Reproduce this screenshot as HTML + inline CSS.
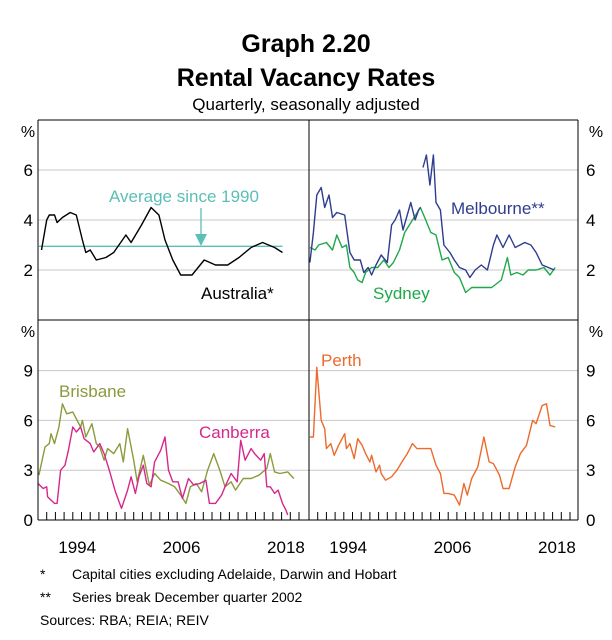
<!DOCTYPE html>
<html><head><meta charset="utf-8"><style>
html,body{margin:0;padding:0;background:#fff;}
svg{display:block;font-family:"Liberation Sans",Arial,sans-serif;}
</style></head><body>
<svg id="c" width="612" height="640" viewBox="0 0 612 640">
<text x="306" y="52" text-anchor="middle" font-size="25" font-weight="bold">Graph 2.20</text>
<text x="306" y="86" text-anchor="middle" font-size="25" font-weight="bold">Rental Vacancy Rates</text>
<text x="306" y="110" text-anchor="middle" font-size="17">Quarterly, seasonally adjusted</text>
<g id="grid"></g>
<g id="series"></g>
<g id="frame"></g>
<g id="labels"></g>
<text x="40" y="579" font-size="14">*</text>
<text x="72" y="579" font-size="14">Capital cities excluding Adelaide, Darwin and Hobart</text>
<text x="40" y="602" font-size="14">**</text>
<text x="72" y="602" font-size="14">Series break December quarter 2002</text>
<text x="40" y="625" font-size="14">Sources: RBA; REIA; REIV</text>
</svg>
<script>
const ausYears=[1990.4,1991.0,1991.3,1991.9,1992.2,1992.8,1993.7,1994.4,1995.1,1995.5,1996.0,1996.7,1997.8,1998.7,2000.1,2000.7,2001.9,2003.0,2003.9,2004.6,2005.5,2006.4,2007.7,2009.1,2010.4,2011.8,2013.1,2014.5,2015.8,2017.2,2018.1];
const ausValues=[2.8,4.0,4.2,4.2,3.9,4.1,4.3,4.2,3.2,2.7,2.8,2.4,2.5,2.7,3.4,3.1,3.8,4.5,4.2,3.2,2.4,1.8,1.8,2.4,2.2,2.2,2.5,2.9,3.1,2.9,2.7];
const avgYears=[1990.1,2018.1];
const avgValues=[2.95,2.95];
const melOldYears=[1990.1,1990.5,1990.9,1991.4,1991.8,1992.3,1992.7,1993.2,1994.1,1994.7,1995.2,1995.9,1996.3,1996.8,1997.2,1997.7,1998.3,1999.0,1999.5,1999.9,2000.4,2000.8,2001.7,2002.2,2002.6,2002.8];
const melOldValues=[2.3,3.5,5.0,5.3,4.5,5.0,4.1,4.3,4.2,2.7,2.4,2.4,1.9,2.1,1.8,2.2,2.6,2.3,3.8,4.0,4.4,3.6,4.7,4.0,4.4,4.5];
const melNewYears=[2003.1,2003.5,2003.9,2004.3,2004.6,2005.1,2005.5,2006.2,2006.7,2007.3,2008.0,2008.5,2009.1,2009.8,2010.5,2011.2,2011.6,2012.3,2013.0,2013.7,2014.8,2015.5,2016.1,2016.8,2017.5,2018.2];
const melNewValues=[6.1,6.6,5.4,6.6,4.7,4.4,3.0,2.7,2.4,2.1,2.0,1.7,2.0,2.2,2.0,3.0,3.4,2.9,3.4,2.9,3.1,3.0,2.7,2.2,2.1,2.0];
const sydYears=[1990.1,1990.7,1991.1,1992.0,1992.7,1993.2,1993.8,1994.3,1994.7,1995.2,1995.6,1996.1,1996.5,1997.2,1997.9,1998.6,1999.2,1999.7,2000.4,2001.0,2001.9,2002.8,2003.3,2004.0,2004.6,2005.3,2006.0,2006.7,2007.3,2008.0,2008.7,2009.8,2011.0,2012.1,2012.8,2013.2,2013.9,2014.6,2015.2,2016.1,2017.0,2017.7,2018.3];
const sydValues=[2.9,2.8,3.0,3.1,2.8,3.4,2.9,3.0,2.1,1.9,1.6,1.5,1.9,2.1,2.1,2.4,2.1,2.3,2.8,3.5,4.0,4.5,4.1,3.5,3.4,2.4,2.5,1.9,1.7,1.1,1.3,1.3,1.3,1.6,2.5,1.8,1.9,1.8,2.0,2.0,2.1,1.8,2.1];
const brisYears=[1990.1,1990.8,1991.3,1991.5,1991.9,1992.4,1992.8,1993.3,1994.0,1994.9,1995.1,1995.5,1996.2,1996.7,1997.1,1997.6,1998.0,1998.7,1999.4,1999.8,2000.3,2001.0,2001.4,2002.1,2002.8,2003.4,2004.1,2005.0,2005.7,2006.4,2007.0,2007.5,2008.2,2008.8,2009.5,2010.2,2010.9,2011.5,2012.2,2012.7,2013.6,2014.5,2015.4,2016.3,2016.7,2017.2,2017.8,2018.7,2019.4];
const brisValues=[2.7,4.4,4.6,5.2,4.6,5.6,7.0,6.4,6.5,5.6,6.0,5.0,5.8,4.6,4.4,3.6,4.3,4.0,4.6,3.5,5.5,3.6,2.3,3.9,2.1,2.8,2.4,2.2,2.0,1.5,1.0,2.0,2.2,1.7,3.0,4.0,3.0,2.0,2.3,1.8,2.5,2.5,2.7,3.1,4.0,2.9,2.8,2.9,2.5];
const canYears=[1990.0,1990.6,1991.0,1991.1,1991.5,1991.9,1992.2,1992.6,1993.1,1993.5,1994.0,1994.4,1994.9,1995.3,1996.0,1996.4,1997.1,1997.6,1998.2,1998.9,1999.6,2000.3,2000.7,2001.2,2001.6,2002.1,2002.5,2003.0,2003.4,2004.1,2004.6,2005.0,2005.5,2006.1,2006.6,2007.3,2007.9,2008.6,2009.3,2009.7,2010.4,2011.1,2011.5,2012.2,2012.9,2013.3,2013.8,2014.5,2014.9,2015.6,2016.0,2016.3,2016.7,2017.2,2017.6,2018.1,2018.5,2018.7];
const canValues=[2.2,1.9,2.0,1.4,1.2,1.0,1.0,3.0,3.3,4.2,5.6,5.3,5.6,4.9,4.6,4.1,4.6,4.0,3.0,1.7,0.7,1.8,2.6,1.6,2.6,3.3,2.2,2.0,3.5,4.2,5.0,3.0,2.3,2.3,1.3,2.5,2.1,2.2,2.4,1.0,1.0,1.5,2.0,2.8,2.3,4.8,3.6,4.3,4.0,3.6,4.0,2.0,2.0,1.6,1.8,1.0,0.6,0.3];
const perthYears=[1990.1,1990.5,1990.9,1991.4,1991.8,1992.0,1992.5,1992.9,1993.4,1994.1,1994.3,1994.7,1995.2,1995.6,1996.1,1996.5,1997.0,1997.2,1997.7,1998.1,1998.3,1998.8,1999.5,2000.1,2000.8,2001.3,2001.9,2002.4,2003.3,2004.0,2004.6,2005.1,2005.5,2006.0,2006.7,2007.3,2007.8,2008.2,2008.7,2009.4,2010.1,2010.7,2011.2,2011.9,2012.3,2013.0,2013.7,2014.3,2015.0,2015.7,2016.1,2016.8,2017.3,2017.7,2018.3];
const perthValues=[5.0,5.0,9.2,6.0,5.5,4.3,4.6,3.9,4.5,5.2,4.3,4.6,3.7,4.9,4.5,4.0,3.5,3.9,2.9,3.3,2.8,2.4,2.6,3.0,3.6,4.0,4.6,4.3,4.3,4.3,3.3,2.8,1.6,1.6,1.5,0.9,2.2,1.5,2.5,3.2,5.0,3.5,3.4,2.7,1.9,1.9,3.2,4.0,4.5,6.0,5.8,6.9,7.0,5.7,5.6];
const topTicks=[2,4,6];
const bottomTicks=[3,6,9];
const xLabels=[1994,2006,2018];

const NS="http://www.w3.org/2000/svg";
const svg=document.getElementById('c');
const PANEL_X=[38,309];
const TOP={y0:320,scale:25,top:120};
const BOT={y0:520,scale:16.6,top:320};
function xScale(t,p){return PANEL_X[p]+(t-1990)*8.7;}
function yTop(v){return TOP.y0-v*TOP.scale;}
function yBot(v){return BOT.y0-v*BOT.scale;}
function mk(tag,attrs,parent){const e=document.createElementNS(NS,tag);for(const k in attrs)e.setAttribute(k,attrs[k]);document.getElementById(parent).appendChild(e);return e;}
function line(xs,ys,p,yf,color,name){
  const pts=xs.map((t,i)=>xScale(t,p).toFixed(1)+','+yf(ys[i]).toFixed(1)).join(' ');
  const e=mk('polyline',{points:pts,fill:'none',stroke:color,'stroke-width':1.4,'stroke-linejoin':'round'},'series');
  
  
}
// gridlines
topTicks.forEach(v=>{
  const g=mk('line',{x1:38,x2:578,y1:yTop(v),y2:yTop(v),stroke:'#c8c8c8','stroke-width':1},'grid');
  
  
  [[33,'end'],[586,'start']].forEach(([x,a])=>{
    const t=mk('text',{x:x,y:yTop(v)+6,'font-size':17,'text-anchor':a},'labels');t.textContent=v;
    
    
  });
});
bottomTicks.concat([0]).forEach(v=>{
  if(v>0){const g=mk('line',{x1:38,x2:578,y1:yBot(v),y2:yBot(v),stroke:'#c8c8c8','stroke-width':1},'grid');
  
  }
  [[33,'end'],[586,'start']].forEach(([x,a])=>{
    const t=mk('text',{x:x,y:yBot(v)+6,'font-size':17,'text-anchor':a},'labels');t.textContent=v;
    
    
  });
});
[[28,137],[596,137],[28,337],[596,337]].forEach(([x,y])=>{
  const t=mk('text',{x:x,y:y,'font-size':16,'text-anchor':'middle'},'labels');t.textContent='%';
  
  
});
// series
line(avgYears,avgValues,0,yTop,'#5bbfb5','average-line');
line(ausYears,ausValues,0,yTop,'#000','australia-line');
line(sydYears,sydValues,1,yTop,'#1fa84a','sydney-line');
line(melOldYears,melOldValues,1,yTop,'#2e3d8f','melbourne-line-old');
line(melNewYears,melNewValues,1,yTop,'#2e3d8f','melbourne-line-new');
line(brisYears,brisValues,0,yBot,'#8a9a3c','brisbane-line');
line(canYears,canValues,0,yBot,'#d6278c','canberra-line');
line(perthYears,perthValues,1,yBot,'#ec6a2c','perth-line');
// frame
[[38,120,578,120],[38,520,578,520],[38,120,38,520],[578,120,578,520],[309,120,309,520],[38,320,578,320]].forEach(c=>{
  const l=mk('line',{x1:c[0],y1:c[1],x2:c[2],y2:c[3],stroke:'#000','stroke-width':1},'frame');
  
  
});
// x ticks
[0,1].forEach(p=>{
  for(let y=1991;y<=2020;y++){
    const l=mk('line',{x1:xScale(y,p),x2:xScale(y,p),y1:520,y2:512,stroke:'#000','stroke-width':1},'frame');
    
    
  }
  xLabels.forEach(y=>{
    const t=mk('text',{x:xScale(y+0.5,p),y:553,'font-size':17,'text-anchor':'middle'},'labels');t.textContent=y;
    
    
  });
});
// series labels
function lab(txt,x,y,color,name){const t=mk('text',{x:x,y:y,'font-size':17,fill:color},'labels');t.textContent=txt;
  
  }
lab('Average since 1990',109,202,'#5bbfb5','average-label');
lab('Australia*',201,299,'#000','australia-label');
lab('Melbourne**',451,214,'#2e3d8f','melbourne-label');
lab('Sydney',373,299,'#1fa84a','sydney-label');
lab('Brisbane',59,397,'#8a9a3c','brisbane-label');
lab('Canberra',199,438,'#d6278c','canberra-label');
lab('Perth',321,366,'#ec6a2c','perth-label');
const ar=mk('line',{x1:201,y1:208,x2:201,y2:238,stroke:'#5bbfb5','stroke-width':1.3},'labels');


const ah=mk('polygon',{points:'195,234 207,234 201,246',fill:'#5bbfb5'},'labels');


</script>
</body></html>
